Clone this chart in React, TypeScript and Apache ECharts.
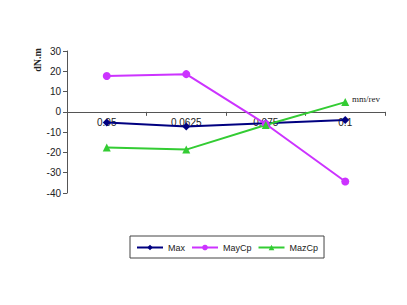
import React, { useEffect, useRef } from "react";
import * as echarts from "echarts";

const categories = ["0.05", "0.0625", "0.075", "0.1"];
const maxValues = [-5.2, -7.2, -5.6, -4.0];
const mayCpValues = [17.7, 18.6, -6.0, -34.3];
const mazCpValues = [-17.6, -18.6, -6.5, 4.8];
const yTicks = { min: -40, max: 30, interval: 10 };

export default function App() {
  const ref = useRef<HTMLDivElement>(null);
  useEffect(() => {
    const chart = echarts.init(ref.current!, null, { renderer: "svg" });
    const axisColor = "#555";
    const gridTop = 51;
    const gridHeight = 142;
    const zeroOffset = -(gridHeight * (0 - yTicks.min)) / (yTicks.max - yTicks.min);
    chart.setOption({
      animation: false,
      backgroundColor: "#fff",
      grid: { left: 67, top: gridTop, width: 318, height: gridHeight },
      xAxis: {
        type: "category",
        data: categories,
        boundaryGap: true,
        offset: zeroOffset,
        axisLine: { onZero: false, lineStyle: { color: axisColor, width: 1 } },
        axisTick: { show: true, length: 4, inside: false, lineStyle: { color: axisColor } },
        axisLabel: { color: "#222", fontFamily: "Liberation Sans", fontSize: 10, margin: 6 },
        splitLine: { show: false },
      },
      yAxis: {
        type: "value",
        min: yTicks.min,
        max: yTicks.max,
        interval: yTicks.interval,
        axisLine: { show: true, lineStyle: { color: axisColor, width: 1 } },
        axisTick: { show: true, length: 4, lineStyle: { color: axisColor } },
        axisLabel: { color: "#222", fontFamily: "Liberation Sans", fontSize: 10, margin: 6 },
        splitLine: { show: false },
      },
      legend: {
        left: 130,
        top: 236,
        orient: "horizontal",
        borderColor: "#444",
        borderWidth: 1,
        padding: [7, 6, 6, 6],
        itemWidth: 26,
        itemHeight: 7,
        itemGap: 6,
        textStyle: { fontFamily: "Liberation Sans", fontSize: 9, color: "#222" },
        data: ["Max", "MayCp", "MazCp"],
      },
      graphic: [
        {
          type: "text",
          x: 37,
          y: 60,
          rotation: Math.PI / 2,
          style: {
            text: "dN.m",
            fontFamily: "Liberation Serif",
            fontSize: 10,
            fontWeight: "bold",
            fill: "#222",
            textAlign: "center",
            textVerticalAlign: "middle",
          },
        },
        {
          type: "text",
          x: 352,
          y: 99,
          style: {
            text: "mm/rev",
            fontFamily: "Liberation Serif",
            fontSize: 9,
            fill: "#222",
            textAlign: "left",
            textVerticalAlign: "middle",
          },
        },
      ],
      series: [
        {
          name: "Max",
          type: "line",
          data: maxValues,
          symbol: "diamond",
          symbolSize: 8,
          lineStyle: { color: "#000080", width: 2 },
          itemStyle: { color: "#000080" },
        },
        {
          name: "MayCp",
          type: "line",
          data: mayCpValues,
          symbol: "circle",
          symbolSize: 8,
          lineStyle: { color: "#cc33ff", width: 2 },
          itemStyle: { color: "#cc33ff" },
        },
        {
          name: "MazCp",
          type: "line",
          data: mazCpValues,
          symbol: "triangle",
          symbolSize: 8,
          lineStyle: { color: "#33cc33", width: 2 },
          itemStyle: { color: "#33cc33" },
        },
      ],
    });
    return () => chart.dispose();
  }, []);
  return (
    <div
      ref={ref}
      style={{ position: "fixed", left: 0, top: 0, width: 407, height: 305 }}
    />
  );
}
